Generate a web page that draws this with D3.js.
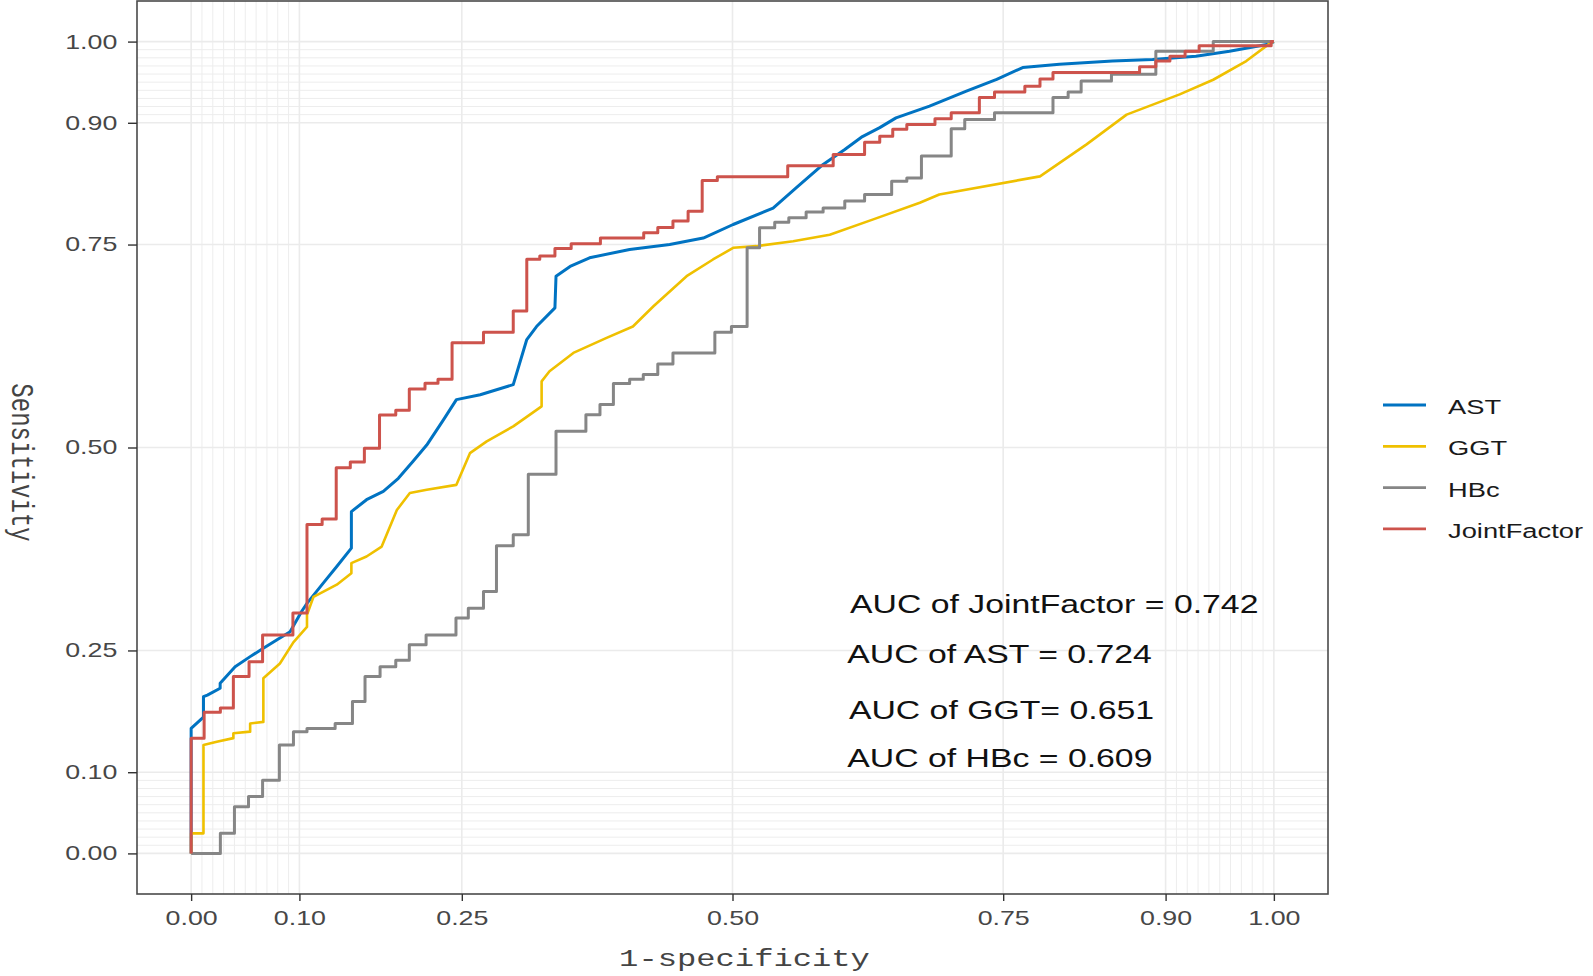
<!DOCTYPE html>
<html>
<head>
<meta charset="utf-8">
<script src="https://cdn.jsdelivr.net/npm/d3@7"></script>
<style>
  html, body { margin: 0; padding: 0; background: #ffffff; }
  svg { display: block; }
</style>
</head>
<body>
<svg id="chart" width="1593" height="976"></svg>
<script>
// ---------------- data ----------------
const seriesNames = ["AST", "GGT", "HBc", "JointFactor"];
const seriesColors = ["#0073C2", "#EFC000", "#868686", "#CD534C"];

// AST (fine-grained ROC, drawn as polyline)
const astPoints = [
  [0,0],[0,0.1438],[0,0.154],[0.0114,0.168],[0.0114,0.193],[0.015,0.195],[0.0268,0.2035],[0.0268,0.2096],
  [0.0406,0.230],[0.0545,0.2424],[0.0667,0.2528],[0.079,0.263],[0.0914,0.273],[0.102,0.298],[0.107,0.308],
  [0.122,0.333],[0.1345,0.3534],[0.148,0.376],[0.148,0.421],[0.162,0.4357],[0.1775,0.446],[0.1914,0.462],
  [0.205,0.483],[0.2176,0.503],[0.233,0.534],[0.245,0.559],[0.267,0.565],[0.2975,0.5775],[0.310,0.633],
  [0.319,0.649],[0.336,0.672],[0.337,0.711],[0.350,0.723],[0.368,0.7337],[0.405,0.744],[0.442,0.750],
  [0.473,0.758],[0.5006,0.7747],[0.5375,0.795],[0.559,0.820],[0.5837,0.8487],[0.6037,0.867],[0.62,0.883],
  [0.636,0.894],[0.651,0.906],[0.682,0.9206],[0.716,0.939],[0.744,0.9535],[0.768,0.968],[0.802,0.972],
  [0.851,0.976],[0.888,0.978],[0.928,0.982],[0.959,0.988],[0.996,0.997],[1,1]
];

// GGT (fine-grained ROC, drawn as polyline)
const ggtPoints = [
  [0,0],[0,0.0247],[0.0114,0.0247],[0.0114,0.1335],[0.0237,0.1376],[0.039,0.142],[0.039,0.148],[0.0545,0.150],
  [0.0545,0.160],[0.0667,0.162],[0.0667,0.2158],[0.082,0.234],[0.0944,0.26],[0.107,0.279],[0.107,0.294],
  [0.113,0.316],[0.1345,0.331],[0.148,0.345],[0.148,0.3576],[0.162,0.3657],[0.176,0.378],[0.190,0.423],
  [0.202,0.444],[0.2176,0.448],[0.245,0.454],[0.2575,0.493],[0.273,0.5075],[0.2975,0.526],[0.3237,0.5507],
  [0.3237,0.5815],[0.331,0.594],[0.353,0.6165],[0.3837,0.635],[0.408,0.649],[0.427,0.674],[0.4576,0.711],
  [0.482,0.7316],[0.5006,0.746],[0.522,0.748],[0.556,0.754],[0.5898,0.762],[0.630,0.781],[0.673,0.8015],
  [0.691,0.8117],[0.784,0.834],[0.827,0.8734],[0.864,0.910],[0.913,0.935],[0.944,0.953],[0.9745,0.976],
  [0.996,0.9975],[1,1]
];

// HBc (step ROC: at each fpr the curve rises to tpr)
const hbcPoints = [
  [0,0],[0.027,0.0247],[0.040,0.0575],[0.053,0.070],[0.066,0.090],[0.0815,0.1335],[0.0945,0.150],[0.107,0.154],
  [0.133,0.160],[0.149,0.187],[0.1606,0.218],[0.1745,0.230],[0.189,0.238],[0.2015,0.257],[0.217,0.269],
  [0.2446,0.290],[0.256,0.302],[0.270,0.3226],[0.282,0.379],[0.2975,0.3925],[0.3114,0.467],[0.337,0.520],
  [0.3646,0.5404],[0.3776,0.553],[0.390,0.5787],[0.405,0.584],[0.4176,0.590],[0.431,0.603],[0.445,0.6165],
  [0.4837,0.642],[0.499,0.649],[0.5135,0.746],[0.525,0.7706],[0.539,0.7776],[0.552,0.783],[0.568,0.790],
  [0.5837,0.795],[0.6037,0.8035],[0.622,0.8117],[0.647,0.828],[0.661,0.832],[0.6745,0.859],[0.702,0.8927],
  [0.7145,0.904],[0.742,0.9125],[0.796,0.931],[0.810,0.938],[0.822,0.9515],[0.850,0.9597],[0.891,0.988],
  [0.944,1.0],[1,1]
];

// JointFactor (step ROC)
const jointPoints = [
  [0,0],[0,0.142],[0.012,0.174],[0.027,0.179],[0.039,0.218],[0.0535,0.236],[0.066,0.269],[0.094,0.296],
  [0.107,0.405],[0.121,0.412],[0.134,0.475],[0.147,0.482],[0.160,0.499],[0.174,0.540],[0.189,0.546],
  [0.2015,0.572],[0.216,0.579],[0.228,0.584],[0.241,0.629],[0.270,0.642],[0.2975,0.668],[0.310,0.732],
  [0.322,0.736],[0.336,0.745],[0.351,0.751],[0.378,0.758],[0.418,0.7645],[0.431,0.771],[0.445,0.779],
  [0.459,0.791],[0.472,0.829],[0.486,0.8335],[0.551,0.847],[0.593,0.861],[0.622,0.876],[0.636,0.8835],
  [0.648,0.892],[0.661,0.898],[0.687,0.905],[0.702,0.9125],[0.728,0.931],[0.742,0.938],[0.770,0.945],
  [0.784,0.954],[0.796,0.962],[0.876,0.969],[0.891,0.976],[0.904,0.982],[0.918,0.988],[0.931,0.995],
  [0.9975,1.0],[1,1]
];

const seriesPoints = [astPoints, ggtPoints, hbcPoints, jointPoints];
const seriesStep = [false, false, true, true];

const majorBreaks = [0, 0.1, 0.25, 0.5, 0.75, 0.9, 1];
const minorBreaks = [0.01,0.02,0.03,0.04,0.05,0.06,0.07,0.08,0.09,0.91,0.92,0.93,0.94,0.95,0.96,0.97,0.98,0.99];

const aucLabels = ["AUC of JointFactor = 0.742", "AUC of AST = 0.724", "AUC of GGT= 0.651", "AUC of HBc = 0.609"];
const aucX = [0.6085, 0.606, 0.6075, 0.606];
const aucY = [0.296, 0.235, 0.166, 0.107];

const xTitle = "1-specificity";
const yTitle = "Sensitivity";

// ---------------- layout ----------------
const panel = { left: 137, top: 1, right: 1328, bottom: 894 };
const SX = 1.34; // horizontal text stretch seen in the reference

const svg = d3.select("#chart");
const x = d3.scaleLinear().domain([-0.05, 1.05]).range([panel.left, panel.right]);
const y = d3.scaleLinear().domain([-0.05, 1.05]).range([panel.bottom, panel.top]);

// background
svg.append("rect").attr("x", panel.left).attr("y", panel.top)
  .attr("width", panel.right - panel.left).attr("height", panel.bottom - panel.top)
  .attr("fill", "#ffffff");

// grid
const grid = svg.append("g");
grid.selectAll("line.vmin").data(minorBreaks).join("line")
  .attr("x1", d => x(d)).attr("x2", d => x(d)).attr("y1", panel.top).attr("y2", panel.bottom)
  .attr("stroke", "#ededed").attr("stroke-width", 1);
grid.selectAll("line.hmin").data(minorBreaks).join("line")
  .attr("y1", d => y(d)).attr("y2", d => y(d)).attr("x1", panel.left).attr("x2", panel.right)
  .attr("stroke", "#ededed").attr("stroke-width", 1);
grid.selectAll("line.vmaj").data(majorBreaks).join("line")
  .attr("x1", d => x(d)).attr("x2", d => x(d)).attr("y1", panel.top).attr("y2", panel.bottom)
  .attr("stroke", "#ebebeb").attr("stroke-width", 1.6);
grid.selectAll("line.hmaj").data(majorBreaks).join("line")
  .attr("y1", d => y(d)).attr("y2", d => y(d)).attr("x1", panel.left).attr("x2", panel.right)
  .attr("stroke", "#ebebeb").attr("stroke-width", 1.6);

// curves
const linearLine = d3.line().x(d => x(d[0])).y(d => y(d[1]));
const stepLine = d3.line().x(d => x(d[0])).y(d => y(d[1])).curve(d3.curveStepAfter);
seriesPoints.forEach((pts, i) => {
  svg.append("path")
    .attr("d", (seriesStep[i] ? stepLine : linearLine)(pts))
    .attr("fill", "none")
    .attr("stroke", seriesColors[i])
    .attr("stroke-width", i === 1 ? 2.6 : 3)
    .attr("stroke-linejoin", "round");
});

// panel border
svg.append("rect").attr("x", panel.left).attr("y", panel.top)
  .attr("width", panel.right - panel.left).attr("height", panel.bottom - panel.top)
  .attr("fill", "none").attr("stroke", "#4a4a4a").attr("stroke-width", 1.6);

// axes
const fmt = d3.format(".2f");
const xAxis = svg.append("g").attr("transform", `translate(0,${panel.bottom})`)
  .call(d3.axisBottom(x).tickValues(majorBreaks).tickFormat(fmt).tickSize(7).tickPadding(10).tickSizeOuter(0));
const yAxis = svg.append("g").attr("transform", `translate(${panel.left},0)`)
  .call(d3.axisLeft(y).tickValues(majorBreaks).tickFormat(fmt).tickSize(9).tickPadding(10.7).tickSizeOuter(0));
[xAxis, yAxis].forEach(g => {
  g.select(".domain").remove();
  g.selectAll(".tick line").attr("stroke", "#333333").attr("stroke-width", 1.4);
  g.selectAll(".tick text")
    .attr("font-family", "'Liberation Sans', Arial, sans-serif")
    .attr("font-size", 20).attr("fill", "#474747")
    .attr("transform", `scale(${SX},1)`);
});
yAxis.selectAll(".tick text").attr("x", -19.7 / SX);

// axis titles
svg.append("text")
  .attr("transform", `translate(${(x(0) + x(1)) / 2 + 12},966) scale(${SX},1)`)
  .attr("text-anchor", "middle")
  .attr("font-family", "'Liberation Mono', 'Courier New', monospace")
  .attr("font-size", 24).attr("fill", "#444444")
  .text(xTitle);
svg.append("text")
  .attr("transform", `translate(12,${y(0.5) + 15}) scale(${SX},1) rotate(90)`)
  .attr("text-anchor", "middle")
  .attr("font-family", "'Liberation Mono', 'Courier New', monospace")
  .attr("font-size", 24).attr("fill", "#444444")
  .text(yTitle);

// AUC annotations
aucLabels.forEach((t, i) => {
  svg.append("text")
    .attr("transform", `translate(${x(aucX[i])},${y(aucY[i])}) scale(1.3,1)`)
    .attr("font-family", "'Liberation Sans', Arial, sans-serif")
    .attr("font-size", 26).attr("fill", "#111111")
    .text(t);
});

// legend
const legend = svg.append("g").attr("transform", "translate(1383,405)");
seriesNames.forEach((name, i) => {
  const g = legend.append("g").attr("transform", `translate(0,${i * 41.3})`);
  g.append("line").attr("x1", 0).attr("x2", 43).attr("y1", 0).attr("y2", 0)
    .attr("stroke", seriesColors[i]).attr("stroke-width", 2.8);
  g.append("text")
    .attr("transform", `translate(65,9) scale(1.3,1)`)
    .attr("font-family", "'Liberation Sans', Arial, sans-serif")
    .attr("font-size", 21).attr("fill", "#1a1a1a")
    .text(name);
});
</script>
</body>
</html>
